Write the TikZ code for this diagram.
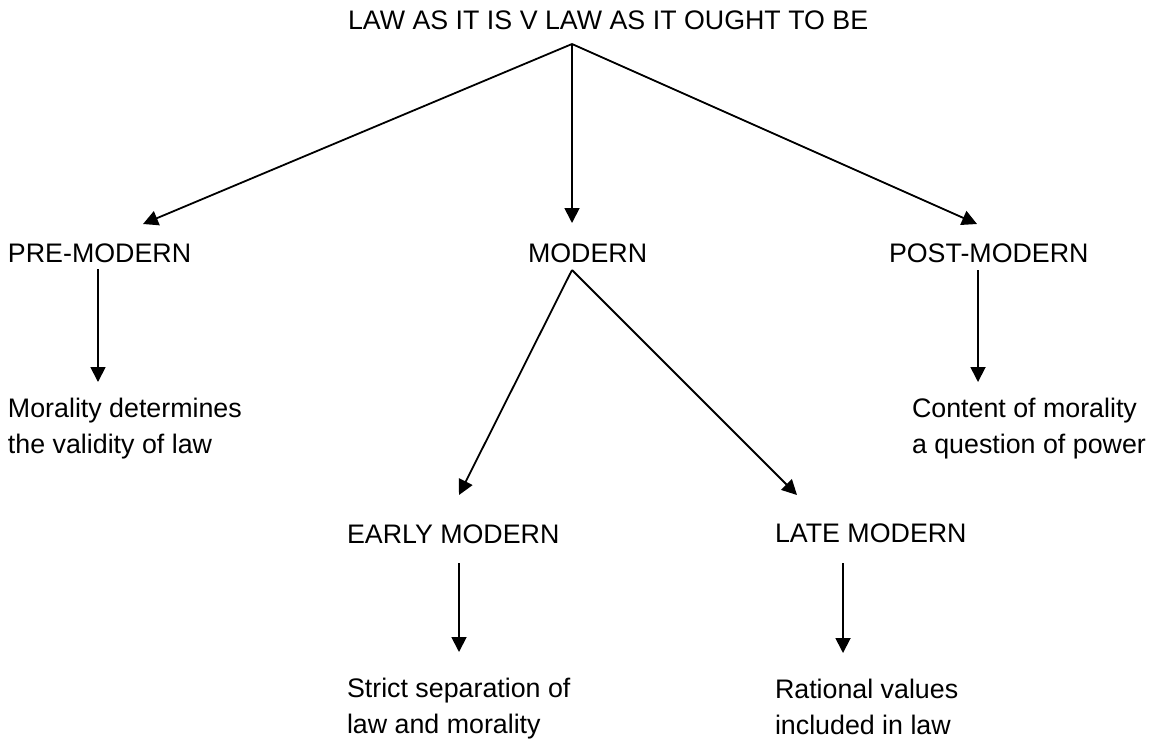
\documentclass[tikz,border=0pt]{standalone}
\usepackage{fontspec}
\setmainfont{Liberation Sans}
\usetikzlibrary{arrows.meta}
\begin{document}
\begin{tikzpicture}[x=0.5pt,y=-0.5pt,
  lbl/.style={anchor=base west,inner sep=0pt,outer sep=0pt,font=\fontsize{13.4pt}{18pt}\selectfont},
  conn/.style={line width=0.9pt,-{Triangle[length=7.5pt,width=7.5pt]}}]
\useasboundingbox (0,0) rectangle (1149,750);
% text
\node[lbl] (title) at (348,29) {LAW AS IT IS V LAW AS IT OUGHT TO BE};
\node[lbl] (pre) at (8,262) {PRE-MODERN};
\node[lbl] (mod) at (528,262) {MODERN};
\node[lbl] (post) at (889,262) {POST-MODERN};
\node[lbl] (premor) at (8,417) {\begin{tabular}[t]{@{}l@{}}Morality determines\\the validity of law\end{tabular}};
\node[lbl] (postmor) at (912,417) {\begin{tabular}[t]{@{}l@{}}Content of morality\\a question of power\end{tabular}};
\node[lbl] (early) at (347,543) {EARLY MODERN};
\node[lbl] (late) at (775,542) {LATE MODERN};
\node[lbl] (earlymor) at (347,697) {\begin{tabular}[t]{@{}l@{}}Strict separation of\\law and morality\end{tabular}};
\node[lbl] (latemor) at (775,698) {\begin{tabular}[t]{@{}l@{}}Rational values\\included in law\end{tabular}};
% connector points
\coordinate (apex) at (572,44);
\coordinate (preIn) at (143,224);
\coordinate (modIn) at (572,223);
\coordinate (postIn) at (977,224);
\coordinate (preOut) at (98,269);
\coordinate (premorIn) at (98,382);
\coordinate (postOut) at (978,270);
\coordinate (postmorIn) at (978,382);
\coordinate (modOut) at (572,270);
\coordinate (earlyIn) at (459,495);
\coordinate (lateIn) at (797,495);
\coordinate (earlyOut) at (459,563);
\coordinate (earlymorIn) at (459,652);
\coordinate (lateOut) at (843,563);
\coordinate (latemorIn) at (843,653);
% connectors
\draw[conn] (apex) -- (preIn);
\draw[conn] (apex) -- (modIn);
\draw[conn] (apex) -- (postIn);
\draw[conn] (preOut) -- (premorIn);
\draw[conn] (postOut) -- (postmorIn);
\draw[conn] (modOut) -- (earlyIn);
\draw[conn] (modOut) -- (lateIn);
\draw[conn] (earlyOut) -- (earlymorIn);
\draw[conn] (lateOut) -- (latemorIn);
\end{tikzpicture}
\end{document}
